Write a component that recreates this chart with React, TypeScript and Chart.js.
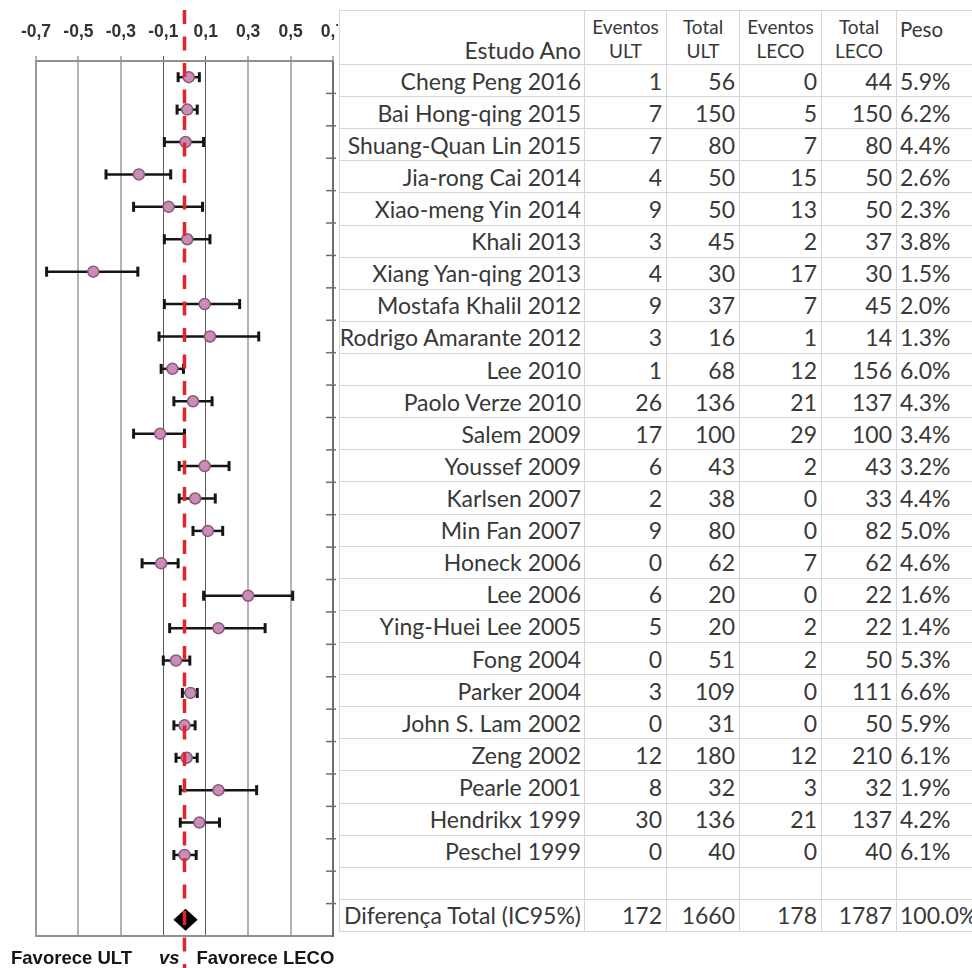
import React, { useEffect, useRef } from 'react';
import { Chart, registerables } from 'chart.js';

Chart.register(...registerables);

// ---------- data ----------
const studies = [
  'Cheng Peng 2016',
  'Bai Hong-qing 2015',
  'Shuang-Quan Lin 2015',
  'Jia-rong Cai 2014',
  'Xiao-meng Yin 2014',
  'Khali 2013',
  'Xiang Yan-qing 2013',
  'Mostafa Khalil 2012',
  'Rodrigo Amarante 2012',
  'Lee 2010',
  'Paolo Verze 2010',
  'Salem 2009',
  'Youssef 2009',
  'Karlsen 2007',
  'Min Fan 2007',
  'Honeck 2006',
  'Lee 2006',
  'Ying-Huei Lee 2005',
  'Fong 2004',
  'Parker 2004',
  'John S. Lam 2002',
  'Zeng 2002',
  'Pearle 2001',
  'Hendrikx 1999',
  'Peschel 1999',
];
const eventsULT = [1, 7, 7, 4, 9, 3, 4, 9, 3, 1, 26, 17, 6, 2, 9, 0, 6, 5, 0, 3, 0, 12, 8, 30, 0];
const totalULT = [56, 150, 80, 50, 50, 45, 30, 37, 16, 68, 136, 100, 43, 38, 80, 62, 20, 20, 51, 109, 31, 180, 32, 136, 40];
const eventsLECO = [0, 5, 7, 15, 13, 2, 17, 7, 1, 12, 21, 29, 2, 0, 0, 7, 0, 2, 2, 0, 0, 12, 3, 21, 0];
const totalLECO = [44, 150, 80, 50, 50, 37, 30, 45, 14, 156, 137, 100, 43, 33, 82, 62, 22, 22, 50, 111, 50, 210, 32, 137, 40];
const weights = [5.9, 6.2, 4.4, 2.6, 2.3, 3.8, 1.5, 2.0, 1.3, 6.0, 4.3, 3.4, 3.2, 4.4, 5.0, 4.6, 1.6, 1.4, 5.3, 6.6, 5.9, 6.1, 1.9, 4.2, 6.1];

const effect = [0.02, 0.013, 0.005, -0.215, -0.075, 0.013, -0.43, 0.095, 0.12, -0.057, 0.04, -0.115, 0.095, 0.05, 0.11, -0.11, 0.3, 0.16, -0.04, 0.028, 0.0, 0.01, 0.16, 0.07, 0.0];
const ciLow = [-0.03, -0.035, -0.095, -0.37, -0.24, -0.095, -0.65, -0.095, -0.12, -0.11, -0.05, -0.24, -0.025, -0.025, 0.04, -0.2, 0.09, -0.07, -0.1, -0.01, -0.05, -0.04, -0.02, -0.02, -0.05];
const ciHigh = [0.07, 0.06, 0.09, -0.065, 0.085, 0.12, -0.22, 0.26, 0.35, -0.005, 0.13, 0.0, 0.21, 0.145, 0.18, -0.03, 0.51, 0.38, 0.025, 0.06, 0.05, 0.06, 0.34, 0.165, 0.055];

const totalLabel = 'Diferença Total (IC95%)';
const pooledEffect = 0.005;
const pooledLow = -0.052;
const pooledHigh = 0.062;
const totalEventsULT = 172;
const totalTotalULT = 1660;
const totalEventsLECO = 178;
const totalTotalLECO = 1787;
const totalWeight = '100.0%';

const xTickValues = [-0.7, -0.5, -0.3, -0.1, 0.1, 0.3, 0.5, 0.7];
const referenceLine = 0;

const yLabels = [...studies, '', totalLabel];

// ---------- chart plugin ----------
const forestPlugin = {
  id: 'forest',
  beforeDatasetsDraw(chart: any) {
    const { ctx, chartArea: a } = chart;
    const x = chart.scales.x;
    const y = chart.scales.y;
    const line = (x1: number, y1: number, x2: number, y2: number) => {
      ctx.beginPath();
      ctx.moveTo(x1, y1);
      ctx.lineTo(x2, y2);
      ctx.stroke();
    };
    ctx.save();
    ctx.lineWidth = 2;
    ctx.strokeStyle = '#9c9c9c';
    line(a.left, a.top, a.left, a.bottom + 1);
    ctx.strokeStyle = '#8f8f8f';
    line(a.left, a.bottom, a.right, a.bottom);
    ctx.strokeStyle = '#6e6e6e';
    line(a.right, a.top, a.right, a.bottom + 1);
    // right-side row ticks
    ctx.lineWidth = 1.5;
    for (let i = 1; i < yLabels.length; i++) {
      const py = y.getPixelForValue(i - 0.5);
      line(a.right - 7, py, a.right + 3, py);
    }
    // error bars
    ctx.strokeStyle = '#151515';
    studies.forEach((_, i) => {
      const py = y.getPixelForValue(i);
      const x1 = x.getPixelForValue(ciLow[i]);
      const x2 = x.getPixelForValue(ciHigh[i]);
      ctx.lineWidth = 2.5;
      line(x1, py, x2, py);
      ctx.lineWidth = 3;
      line(x1, py - 5, x1, py + 5);
      line(x2, py - 5, x2, py + 5);
    });
    ctx.restore();
  },
  afterDatasetsDraw(chart: any) {
    const { ctx } = chart;
    const x = chart.scales.x;
    const y = chart.scales.y;
    ctx.save();
    // pooled diamond
    const py = y.getPixelForValue(yLabels.length - 1);
    const xl = x.getPixelForValue(pooledLow);
    const xc = x.getPixelForValue(pooledEffect);
    const xr = x.getPixelForValue(pooledHigh);
    ctx.fillStyle = '#000';
    ctx.beginPath();
    ctx.moveTo(xl, py);
    ctx.lineTo(xc, py - 11);
    ctx.lineTo(xr, py);
    ctx.lineTo(xc, py + 11);
    ctx.closePath();
    ctx.fill();
    // reference dashed line
    const zx = x.getPixelForValue(referenceLine);
    ctx.strokeStyle = '#e3242b';
    ctx.lineWidth = 3.5;
    ctx.setLineDash([14, 12.5]);
    ctx.beginPath();
    ctx.moveTo(zx, 10);
    ctx.lineTo(zx, chart.height);
    ctx.stroke();
    ctx.setLineDash([]);
    // bottom caption
    const by = chart.height - 4;
    ctx.fillStyle = '#161616';
    ctx.textBaseline = 'alphabetic';
    ctx.font = 'bold 18.5px "Liberation Sans", Arial, sans-serif';
    ctx.textAlign = 'left';
    ctx.fillText('Favorece ULT', 11, by);
    ctx.font = 'italic bold 18.5px "Liberation Sans", Arial, sans-serif';
    ctx.textAlign = 'right';
    ctx.fillText('vs', zx - 5, by);
    ctx.font = 'bold 18.5px "Liberation Sans", Arial, sans-serif';
    ctx.textAlign = 'left';
    ctx.fillText('Favorece LECO', zx + 12, by);
    ctx.restore();
  },
};

// ---------- table styles ----------
const border = '1px solid #d6d6d6';
const textColor = '#383838';
const cellBase: React.CSSProperties = {
  borderRight: border,
  borderBottom: border,
  boxSizing: 'border-box',
  display: 'flex',
  alignItems: 'center',
  whiteSpace: 'nowrap',
  overflow: 'visible',
};
const numCell: React.CSSProperties = { ...cellBase, justifyContent: 'flex-end', paddingRight: 4 };
const nameCell: React.CSSProperties = { ...cellBase, justifyContent: 'flex-end', paddingRight: 3 };
const pesoCell: React.CSSProperties = { ...cellBase, justifyContent: 'flex-start', paddingLeft: 3 };
const headSmall: React.CSSProperties = {
  ...cellBase,
  flexDirection: 'column',
  justifyContent: 'flex-start',
  alignItems: 'center',
  fontSize: 19,
  lineHeight: '24px',
  paddingTop: 4,
};

export default function App() {
  const ref = useRef<HTMLCanvasElement>(null);

  useEffect(() => {
    const chart = new Chart(ref.current as HTMLCanvasElement, {
      type: 'scatter',
      data: {
        labels: yLabels,
        datasets: [
          {
            data: studies.map((s, i) => ({ x: effect[i], y: s })) as any,
            pointRadius: 5.5,
            pointBackgroundColor: '#c98db6',
            pointBorderColor: '#8a5878',
            pointBorderWidth: 1.5,
            showLine: false,
          },
        ],
      },
      options: {
        animation: false,
        responsive: false,
        maintainAspectRatio: false,
        events: [],
        layout: { padding: { left: 36, right: 27, top: 8, bottom: 32 } },
        plugins: { legend: { display: false }, tooltip: { enabled: false } },
        scales: {
          x: {
            type: 'linear',
            position: 'top',
            min: -0.7,
            max: 0.7,
            afterBuildTicks: (scale: any) => {
              scale.ticks = xTickValues.map((v) => ({ value: v }));
            },
            ticks: {
              autoSkip: false,
              maxRotation: 0,
              padding: 13.5,
              color: '#333',
              font: { family: '"Liberation Sans", Arial, sans-serif', size: 17.5, weight: 'bold' },
              callback: (v: any) => Number(v).toFixed(1).replace('.', ','),
            },
            grid: {
              drawTicks: true,
              tickLength: 5,
              color: (c: any) => (c.tick && Math.abs(Math.abs(c.tick.value) - 0.1) < 1e-6 ? '#5a5a5a' : '#b3b3b3'),
              lineWidth: (c: any) => (c.tick && Math.abs(Math.abs(c.tick.value) - 0.1) < 1e-6 ? 1 : 2),
            },
            border: { display: true, color: '#8f8f8f', width: 2 },
          },
          y: {
            type: 'category',
            labels: yLabels,
            offset: true,
            display: false,
          },
        },
      },
      plugins: [forestPlugin],
    } as any);
    return () => chart.destroy();
  }, []);

  const rows = studies.map((s, i) => [
    s,
    String(eventsULT[i]),
    String(totalULT[i]),
    String(eventsLECO[i]),
    String(totalLECO[i]),
    weights[i].toFixed(1) + '%',
  ]);
  rows.push(['', '', '', '', '', '']);
  rows.push([
    totalLabel,
    String(totalEventsULT),
    String(totalTotalULT),
    String(totalEventsLECO),
    String(totalTotalLECO),
    totalWeight,
  ]);

  return (
    <div
      style={{
        position: 'absolute',
        left: 0,
        top: 0,
        width: 972,
        height: 968,
        overflow: 'hidden',
        background: '#fff',
      }}
    >
      <canvas
        ref={ref}
        width={360}
        height={968}
        style={{ position: 'absolute', left: 0, top: 0, width: 360, height: 968 }}
      />
      <div
        style={{
          position: 'absolute',
          left: 338,
          top: 0,
          width: 634,
          height: 968,
          background: '#fff',
          overflow: 'hidden',
        }}
      >
        <div
          style={{
            position: 'absolute',
            left: 1,
            top: 10,
            borderTop: border,
            borderLeft: border,
            display: 'grid',
            gridTemplateColumns: '245px 82px 73px 82px 75px 90px',
            gridTemplateRows: '54px repeat(27, 32.11px)',
            fontFamily: 'Lato, "Open Sans", sans-serif',
            fontSize: 23,
            color: textColor,
          }}
        >
          <div style={{ ...nameCell, alignItems: 'flex-end', paddingBottom: 2, lineHeight: '24px' }}>Estudo Ano</div>
          <div style={headSmall}>
            <span>Eventos</span>
            <span>ULT</span>
          </div>
          <div style={headSmall}>
            <span>Total</span>
            <span>ULT</span>
          </div>
          <div style={headSmall}>
            <span>Eventos</span>
            <span>LECO</span>
          </div>
          <div style={headSmall}>
            <span>Total</span>
            <span>LECO</span>
          </div>
          <div style={{ ...pesoCell, alignItems: 'flex-start', paddingTop: 6, fontSize: 20.5, lineHeight: '24px' }}>Peso</div>
          {rows.map((r, ri) =>
            r.map((v, ci) => (
              <div key={ri + '-' + ci} style={ci === 0 ? nameCell : ci === 5 ? pesoCell : numCell}>
                {v}
              </div>
            ))
          )}
        </div>
      </div>
    </div>
  );
}
